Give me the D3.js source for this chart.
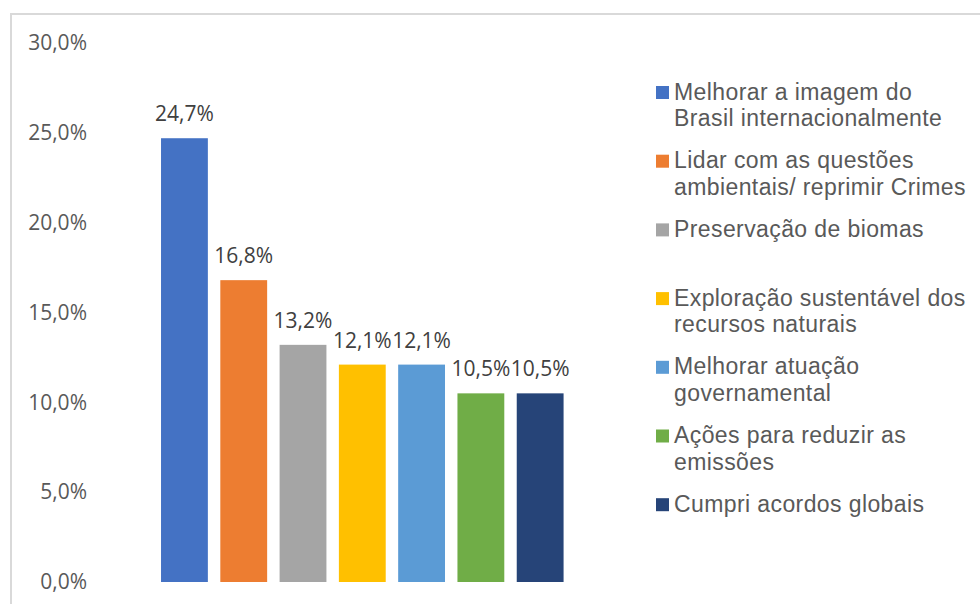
<!DOCTYPE html>
<html>
<head>
<meta charset="utf-8">
<script src="https://cdn.jsdelivr.net/npm/d3@7"></script>
<style>
  html, body { margin: 0; padding: 0; background: #fff; }
  svg { display: block; }
</style>
</head>
<body>
<svg id="chart" width="980" height="604"></svg>
<script>
// Categories (legend order) and their shares, in percent
const categories = [
  ["Melhorar a imagem do", "Brasil internacionalmente"],
  ["Lidar com as questões", "ambientais/ reprimir Crimes"],
  ["Preservação de biomas"],
  ["Exploração sustentável dos", "recursos naturais"],
  ["Melhorar atuação", "governamental"],
  ["Ações para reduzir as", "emissões"],
  ["Cumpri acordos globais"]
];
const values = [24.7, 16.8, 13.2, 12.1, 12.1, 10.5, 10.5];
const colors = ["#4472c4", "#ed7d31", "#a5a5a5", "#ffc000", "#5b9bd5", "#70ad47", "#264478"];
const yTicks = [0, 5, 10, 15, 20, 25, 30];

const fmt = v => v.toFixed(1).replace(".", ",") + "%";

const svg = d3.select("#chart");

// chart frame (runs off the right and bottom edges)
svg.append("rect")
  .attr("x", 11).attr("y", 14)
  .attr("width", 1000).attr("height", 620)
  .attr("fill", "none")
  .attr("stroke", "#d9d9d9")
  .attr("stroke-width", 2);

const y = d3.scaleLinear().domain([0, 30]).range([582, 43]);
const x = d3.scaleBand()
  .domain(d3.range(values.length))
  .range([154.8, 569.8])
  .paddingInner(0.21)
  .paddingOuter(0.105);

// y axis: labels only, no line or ticks
const yAxis = svg.append("g")
  .attr("transform", "translate(87,0)")
  .call(d3.axisLeft(y).tickValues(yTicks).tickFormat(fmt).tickSize(0).tickPadding(0));
yAxis.select(".domain").remove();
yAxis.selectAll("text")
  .attr("font-family", "'Open Sans', sans-serif")
  .attr("font-size", 21)
  .attr("fill", "#595959");

// bars
svg.append("g").selectAll("rect")
  .data(values)
  .join("rect")
  .attr("x", (d, i) => x(i))
  .attr("y", d => y(d))
  .attr("width", x.bandwidth())
  .attr("height", d => y(0) - y(d))
  .attr("fill", (d, i) => colors[i]);

// value labels
svg.append("g").selectAll("text")
  .data(values)
  .join("text")
  .attr("x", (d, i) => x(i) + x.bandwidth() / 2)
  .attr("y", d => y(d) - 17)
  .attr("text-anchor", "middle")
  .attr("font-family", "'Open Sans', sans-serif")
  .attr("font-size", 21)
  .attr("fill", "#404040")
  .text(d => fmt(d));

// legend
const legend = svg.append("g").attr("transform", "translate(656,0)");
const items = legend.selectAll("g")
  .data(categories)
  .join("g")
  .attr("transform", (d, i) => `translate(0,${99.5 + i * 68.7})`);
items.append("rect")
  .attr("x", 0).attr("y", -13.5)
  .attr("width", 13).attr("height", 13)
  .attr("fill", (d, i) => colors[i]);
items.append("text")
  .attr("font-family", "'Liberation Sans', Arial, sans-serif")
  .attr("font-size", 23)
  .attr("letter-spacing", 0.4)
  .attr("fill", "#595959")
  .selectAll("tspan")
  .data(d => d)
  .join("tspan")
  .attr("x", 18)
  .attr("y", (d, j) => j * 26.6)
  .text(d => d);
</script>
</body>
</html>
